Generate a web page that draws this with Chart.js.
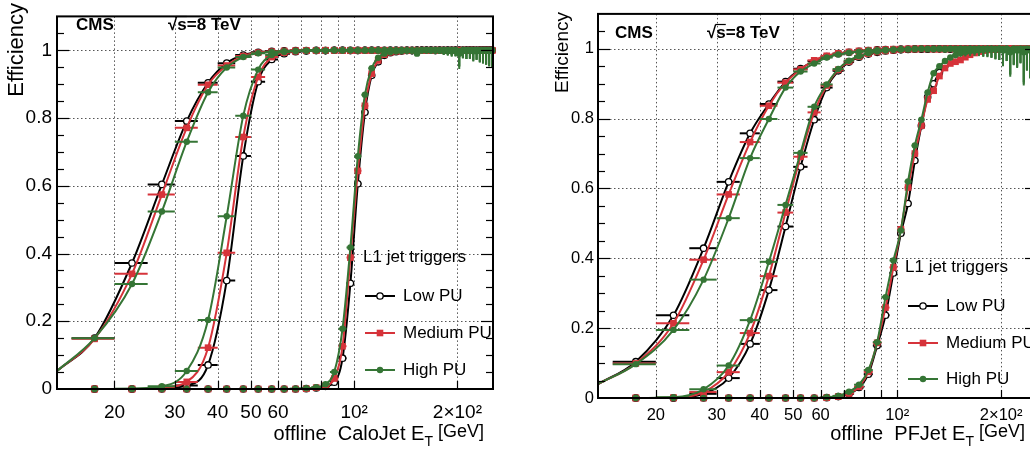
<!DOCTYPE html>
<html><head><meta charset="utf-8">
<script src="https://cdn.jsdelivr.net/npm/chart.js@4.4.0/dist/chart.umd.min.js"></script>
<style>
html,body{margin:0;padding:0;background:#fff;overflow:hidden;width:1030px;height:451px;}
#wrap{position:relative;width:1030px;height:451px;overflow:hidden;background:#fff;}
canvas{position:absolute;top:0;}
#c1{left:0;} #c2{left:520px;}
</style></head><body><div id="wrap"><canvas id="c1" width="500" height="451"></canvas><canvas id="c2" width="530" height="451"></canvas></div>
<script>
// ---------------- data ----------------
const binCenters = [17.5,22.5,27.5,32.5,37.5,42.5,47.5,52.5,57.5,62.5,
 67.5,72.5,77.5,82.5,87.5,92.5,97.5,102.5,107.5,112.5,
 117.5,122.5,127.5,132.5,137.5,142.5,147.5,152.5,157.5,162.5,
 167.5,172.5,177.5,182.5,187.5,192.5,197.5,202.5,207.5,212.5,
 217.5,222.5,227.5,232.5,237.5,242.5,247.5,252.5];
const BIN_HALF_WIDTH = 2.5;
const X_MIN = 13.6, X_MAX = 254;
const xGridValues = [20,30,40,50,60,70,80,90,100,200];
const xTickLabels = ['20','30','40','50','60','','','','10\u00B2','2\u00D710\u00B2'];
const yTickValues = [0,0.2,0.4,0.6,0.8,1];
const yTickLabels = ['0','0.2','0.4','0.6','0.8','1'];
const puLabels = ['Low PU','Medium PU','High PU'];
const legendTitle = 'L1 jet triggers';

// CaloJet panel
const caloThr1Low = [0.150,0.372,0.604,0.791,0.904,0.962,0.986,0.994,0.997,0.998,
 0.999,0.999,1.000,0.999,1.000,1.000,0.999,1.000,1.000,1.000,
 1.000,0.999,1.000,1.000,1.000,1.000,0.999,1.000,1.000,1.000,
 1.000,1.000,1.000,0.999,1.000,1.000,1.000,1.000,1.000,1.000,
 1.000,1.000,0.999,1.000,1.000,1.000,1.000,1.000];
const caloThr1Med = [0.148,0.340,0.574,0.771,0.898,0.955,0.983,0.993,0.996,0.998,
 0.999,0.999,0.999,1.000,1.000,0.999,1.000,1.000,0.999,1.000,
 1.000,1.000,1.000,0.999,1.000,1.000,1.000,1.000,1.000,0.999,
 1.000,1.000,1.000,1.000,1.000,1.000,0.999,1.000,1.000,1.000,
 1.000,1.000,1.000,1.000,1.000,1.000,1.000,1.000];
const caloThr1High = [0.150,0.310,0.524,0.730,0.876,0.949,0.980,0.991,0.995,0.997,
 0.998,0.999,0.999,0.999,1.000,0.999,1.000,0.999,1.000,1.000,
 0.999,1.000,1.000,0.998,1.000,1.000,0.999,0.997,1.000,1.000,
 1.000,0.999,1.000,1.000,0.998,1.000,1.000,0.996,1.000,1.000,
 0.999,1.000,1.000,1.000,0.999,1.000,1.000,1.000];
const caloThr2Low = [0.000,0.000,0.002,0.010,0.071,0.320,0.688,0.907,0.973,0.990,
 0.996,0.998,0.999,0.999,1.000,1.000,1.000,0.999,1.000,1.000,
 1.000,1.000,1.000,1.000,0.999,1.000,1.000,1.000,1.000,1.000,
 1.000,1.000,1.000,1.000,1.000,0.999,1.000,1.000,1.000,1.000,
 1.000,1.000,1.000,1.000,1.000,1.000,1.000,1.000];
const caloThr2Med = [0.000,0.000,0.004,0.021,0.122,0.402,0.744,0.921,0.980,0.993,
 0.997,0.999,0.999,1.000,1.000,1.000,0.999,1.000,1.000,1.000,
 1.000,1.000,0.999,1.000,1.000,1.000,1.000,1.000,1.000,1.000,
 0.999,1.000,1.000,1.000,1.000,1.000,1.000,1.000,1.000,1.000,
 1.000,1.000,1.000,1.000,1.000,1.000,1.000,1.000];
const caloThr2High = [0.000,0.001,0.008,0.053,0.204,0.510,0.807,0.943,0.986,0.995,
 0.998,0.999,1.000,0.999,1.000,1.000,1.000,1.000,0.999,1.000,
 1.000,1.000,1.000,1.000,1.000,0.999,1.000,1.000,1.000,1.000,
 1.000,1.000,0.999,1.000,1.000,1.000,1.000,0.998,1.000,1.000,
 1.000,1.000,1.000,0.999,1.000,1.000,1.000,1.000];
const caloThr3Low = [0.000,0.000,0.000,0.000,0.000,0.000,0.000,0.000,0.000,0.000,
 0.000,0.001,0.003,0.008,0.020,0.091,0.312,0.606,0.817,0.926,
 0.966,0.985,0.993,0.996,0.998,0.999,0.999,1.000,1.000,1.000,
 1.000,0.999,1.000,1.000,1.000,1.000,1.000,1.000,0.999,1.000,
 1.000,1.000,1.000,1.000,1.000,1.000,1.000,1.000];
const caloThr3Med = [0.000,0.000,0.000,0.000,0.000,0.000,0.000,0.000,0.000,0.000,
 0.000,0.001,0.004,0.010,0.031,0.126,0.388,0.644,0.836,0.931,
 0.970,0.987,0.994,0.997,0.998,0.999,1.000,0.999,1.000,1.000,
 1.000,1.000,1.000,1.000,0.999,1.000,1.000,1.000,1.000,1.000,
 1.000,1.000,1.000,1.000,1.000,1.000,1.000,1.000];
const caloThr3High = [0.000,0.000,0.000,0.000,0.000,0.000,0.000,0.000,0.000,0.000,
 0.001,0.002,0.005,0.014,0.050,0.178,0.418,0.687,0.869,0.947,
 0.978,0.990,0.995,0.997,0.998,0.999,0.999,0.990,1.000,1.000,
 0.999,1.000,1.000,0.998,1.000,0.997,1.000,0.990,0.998,1.000,
 0.999,0.997,1.000,0.998,1.000,0.999,0.998,1.000];
const caloHighPuLowErr = [0,0,0,0,0,0,0,0,0,0,
 0,0,0,0,0,0,0,0,0,0,
 0.003,0.003,0.004,0.004,0.005,0.005,0.006,0.006,0.007,0.008,
 0.008,0.009,0.010,0.012,0.014,0.016,0.018,0.045,0.022,0.026,
 0.024,0.030,0.028,0.034,0.038,0.042,0.046,0.050];
const caloCurveStart = [0.053,0,0];

// PFJet panel
const pfThr1Low = [0.104,0.237,0.429,0.619,0.758,0.842,0.906,0.943,0.965,0.978,
 0.986,0.990,0.993,0.995,0.997,0.998,0.998,0.999,0.999,1.000,
 1.000,0.999,1.000,1.000,1.000,1.000,1.000,0.999,1.000,1.000,
 1.000,1.000,1.000,1.000,1.000,1.000,1.000,1.000,1.000,1.000,
 0.999,1.000,1.000,1.000,1.000,1.000,1.000,1.000];
const pfThr1Med = [0.099,0.214,0.396,0.583,0.733,0.837,0.903,0.941,0.967,0.980,
 0.987,0.991,0.994,0.996,0.997,0.998,0.999,0.999,1.000,1.000,
 1.000,1.000,0.999,1.000,1.000,1.000,1.000,1.000,1.000,0.999,
 1.000,1.000,1.000,1.000,1.000,1.000,1.000,1.000,1.000,1.000,
 1.000,1.000,1.000,0.999,1.000,1.000,1.000,1.000];
const pfThr1High = [0.097,0.195,0.339,0.515,0.687,0.799,0.889,0.935,0.958,0.975,
 0.984,0.989,0.992,0.995,0.996,0.997,0.998,0.999,0.999,1.000,
 1.000,0.999,1.000,1.000,0.998,1.000,1.000,1.000,0.999,1.000,
 1.000,1.000,0.998,1.000,1.000,1.000,1.000,0.997,1.000,0.996,
 1.000,0.998,1.000,0.995,1.000,0.997,0.998,1.000];
const pfThr2Low = [0.000,0.000,0.012,0.057,0.155,0.309,0.491,0.662,0.797,0.889,
 0.937,0.962,0.976,0.985,0.990,0.994,0.996,0.997,0.998,0.999,
 0.999,1.000,1.000,1.000,1.000,0.999,1.000,1.000,1.000,1.000,
 1.000,1.000,1.000,1.000,1.000,1.000,1.000,1.000,1.000,1.000,
 1.000,1.000,1.000,1.000,1.000,1.000,1.000,1.000];
const pfThr2Med = [0.000,0.001,0.017,0.074,0.186,0.349,0.531,0.691,0.818,0.895,
 0.940,0.964,0.978,0.986,0.991,0.994,0.996,0.998,0.999,0.999,
 1.000,1.000,1.000,0.999,1.000,1.000,1.000,1.000,1.000,1.000,
 1.000,1.000,1.000,1.000,0.999,1.000,1.000,1.000,1.000,1.000,
 1.000,1.000,1.000,1.000,1.000,1.000,1.000,1.000];
const pfThr2High = [0.000,0.002,0.025,0.093,0.223,0.390,0.553,0.702,0.834,0.898,
 0.942,0.966,0.979,0.987,0.992,0.995,0.997,0.998,0.999,0.999,
 1.000,1.000,0.999,1.000,1.000,1.000,0.998,1.000,1.000,1.000,
 0.999,1.000,1.000,1.000,1.000,0.998,1.000,1.000,1.000,0.997,
 1.000,1.000,0.998,1.000,1.000,1.000,0.996,1.000];
const pfThr3Low = [0.000,0.000,0.000,0.000,0.000,0.000,0.000,0.000,0.000,0.001,
 0.004,0.012,0.030,0.068,0.150,0.237,0.358,0.472,0.557,0.680,
 0.780,0.862,0.900,0.932,0.952,0.966,0.976,0.983,0.988,0.992,
 0.995,0.996,0.997,0.998,0.999,0.999,1.000,1.000,1.000,0.999,
 1.000,1.000,1.000,1.000,1.000,1.000,1.000,1.000];
const pfThr3Med = [0.000,0.000,0.000,0.000,0.000,0.000,0.000,0.000,0.000,0.001,
 0.004,0.013,0.032,0.075,0.158,0.259,0.374,0.483,0.603,0.700,
 0.780,0.855,0.880,0.922,0.945,0.958,0.963,0.968,0.976,0.983,
 0.988,0.992,0.995,0.997,0.998,0.999,0.999,1.000,1.000,1.000,
 1.000,1.000,1.000,1.000,1.000,1.000,1.000,1.000];
const pfThr3High = [0.000,0.000,0.000,0.000,0.000,0.000,0.000,0.000,0.000,0.002,
 0.006,0.018,0.038,0.080,0.160,0.289,0.394,0.480,0.620,0.723,
 0.797,0.875,0.930,0.950,0.965,0.975,0.982,0.987,0.990,0.993,
 0.995,0.996,0.997,0.998,0.999,0.998,1.000,0.995,1.000,0.990,
 0.998,0.995,1.000,0.990,0.997,0.995,0.993,0.996];
const pfHighPuLowErr = [0,0,0,0,0,0,0,0,0,0,
 0,0,0,0,0,0,0,0,0,0,
 0.004,0.005,0.005,0.006,0.007,0.008,0.009,0.010,0.012,0.014,
 0.015,0.017,0.020,0.022,0.025,0.028,0.032,0.045,0.035,0.070,
 0.045,0.050,0.040,0.095,0.060,0.080,0.070,0.075];
const pfCurveStart = [0.04,0,0];

// ---------------- styling ----------------
const FONT = '"Liberation Sans", Arial, Helvetica, sans-serif';
const puColors = ['#000000','#d6333a','#357535'];
const puStyles = ['circle','rect','circle'];

function drawMarker(ctx, p, x, y) {
  ctx.save();
  if (p === 0) {
    ctx.beginPath(); ctx.arc(x, y, 3.2, 0, Math.PI*2);
    ctx.fillStyle = '#fff'; ctx.fill();
    ctx.lineWidth = 1.3; ctx.strokeStyle = puColors[0]; ctx.stroke();
  } else if (p === 1) {
    ctx.fillStyle = puColors[1]; ctx.fillRect(x-3.3, y-3.3, 6.6, 6.6);
  } else {
    ctx.beginPath(); ctx.arc(x, y, 3.2, 0, Math.PI*2);
    ctx.fillStyle = puColors[2]; ctx.fill();
  }
  ctx.restore();
}

function buildDatasets(series, curveStart, highLowErr) {
  const ds = [];
  for (let p = 0; p < 3; p++) {
    for (let t = 0; t < 3; t++) {
      const vals = series[p][t];
      const pts = binCenters.map((c, i) => ({x: c, y: vals[i]}));
      ds.push({type: 'line', data: [{x: X_MIN, y: curveStart[t]}].concat(pts),
        borderColor: puColors[p], borderWidth: 2, pointRadius: 0, pointHoverRadius: 0,
        cubicInterpolationMode: 'monotone', fill: false, clip: false});
      ds.push({type: 'scatter', data: pts, showLine: false,
        pointStyle: puStyles[p], pointRadius: p === 1 ? 4.7 : 3.2,
        backgroundColor: p === 0 ? '#ffffff' : puColors[p],
        borderColor: puColors[p], borderWidth: p === 0 ? 1.3 : 0,
        errorBars: true, errColor: puColors[p], lowErr: p === 2 ? highLowErr : null, clip: false});
    }
  }
  ds.forEach((d, i) => { d.order = ds.length - i; });
  return ds;
}

function makePlugin(L) {
  return {
    id: 'decor',
    beforeDatasetsDraw(chart) {
      const {ctx, chartArea: a, scales: {x, y}} = chart;
      ctx.save();
      ctx.strokeStyle = '#555'; ctx.lineWidth = 1; ctx.setLineDash([1.5, 2.5]);
      xGridValues.forEach(v => {
        const px = Math.round(x.getPixelForValue(v)) + 0.5;
        ctx.beginPath(); ctx.moveTo(px, a.top); ctx.lineTo(px, a.bottom); ctx.stroke();
      });
      yTickValues.forEach(v => {
        if (v === 0) return;
        const py = Math.round(y.getPixelForValue(v)) + 0.5;
        ctx.beginPath(); ctx.moveTo(a.left, py); ctx.lineTo(a.right, py); ctx.stroke();
      });
      ctx.restore();
    },
    beforeDatasetDraw(chart, args) {
      const d = chart.data.datasets[args.index];
      if (!d.errorBars) return;
      const {ctx, chartArea: a, scales: {x, y}} = chart;
      ctx.save();
      ctx.beginPath(); ctx.rect(a.left, a.top - 10, a.right - a.left, a.bottom - a.top + 20); ctx.clip();
      ctx.strokeStyle = d.errColor; ctx.lineWidth = 2;
      d.data.forEach((pt, i) => {
        const py = y.getPixelForValue(pt.y);
        const x1 = x.getPixelForValue(pt.x - BIN_HALF_WIDTH);
        const x2 = x.getPixelForValue(pt.x + BIN_HALF_WIDTH);
        ctx.beginPath(); ctx.moveTo(x1, py); ctx.lineTo(x2, py); ctx.stroke();
        if (d.lowErr && d.lowErr[i] > 0) {
          const px = x.getPixelForValue(pt.x);
          ctx.beginPath(); ctx.moveTo(px, py); ctx.lineTo(px, y.getPixelForValue(pt.y - d.lowErr[i])); ctx.stroke();
        }
      });
      ctx.restore();
    },
    afterDraw(chart) {
      const {ctx, chartArea: a, scales: {x, y}} = chart;
      ctx.save();
      // minor/major y ticks inside on both sides
      ctx.strokeStyle = '#000'; ctx.lineWidth = 1.2;
      for (let k = 1; k <= 21; k++) {
        const v = k * 0.05;
        const py = Math.round(y.getPixelForValue(v)) + 0.5;
        const len = (k % 4 === 0) ? 12 : 7;
        ctx.beginPath(); ctx.moveTo(a.left, py); ctx.lineTo(a.left + len, py); ctx.stroke();
        ctx.beginPath(); ctx.moveTo(a.right, py); ctx.lineTo(a.right - len, py); ctx.stroke();
      }
      xGridValues.forEach(v => {
        const px = Math.round(x.getPixelForValue(v)) + 0.5;
        ctx.beginPath(); ctx.moveTo(px, a.bottom); ctx.lineTo(px, a.bottom - 8); ctx.stroke();
      });
      // frame
      ctx.lineWidth = 2; ctx.strokeStyle = '#000';
      ctx.strokeRect(a.left, a.top, a.right - a.left, a.bottom - a.top);
      // y title
      ctx.fillStyle = '#000';
      ctx.save();
      ctx.translate(L.yTitleX, L.yTitleTop); ctx.rotate(-Math.PI / 2);
      ctx.font = L.yTitleSize + 'px ' + FONT; ctx.textAlign = 'right'; ctx.textBaseline = 'middle';
      ctx.fillText('Efficiency', 0, 0);
      ctx.restore();
      // x title
      ctx.textBaseline = 'alphabetic'; ctx.textAlign = 'left';
      const f1 = '20px ' + FONT, f2 = '14px ' + FONT, f3 = '18px ' + FONT;
      ctx.font = f1; const w1 = ctx.measureText(L.xTitleMain).width;
      ctx.font = f2; const w2 = ctx.measureText('T').width;
      ctx.font = f3; const w3 = ctx.measureText(' [GeV]').width;
      let sx = L.xTitleRight - (w1 + w2 + w3);
      ctx.font = f1; ctx.fillText(L.xTitleMain, sx, L.xTitleBase);
      ctx.font = f2; ctx.fillText('T', sx + w1, L.xTitleBase + 6);
      ctx.font = f3; ctx.fillText(' [GeV]', sx + w1 + w2, L.xTitleBase - 3);
      // CMS and energy
      ctx.font = 'bold 17px ' + FONT; ctx.textBaseline = 'middle';
      ctx.fillText('CMS', L.cmsX, L.cmsY);
      const wr = ctx.measureText('\u221A').width;
      ctx.fillText('\u221As=8 TeV', L.sqrtX, L.cmsY);
      const ws = ctx.measureText('s').width;
      ctx.lineWidth = 1.2;
      ctx.beginPath(); ctx.moveTo(L.sqrtX + wr - 1, L.cmsY - 8.5); ctx.lineTo(L.sqrtX + wr + ws, L.cmsY - 8.5); ctx.stroke();
      // legend
      ctx.font = '17px ' + FONT; ctx.textBaseline = 'middle';
      ctx.fillText(legendTitle, L.legTitleX, L.legTitleY);
      puLabels.forEach((lab, i) => {
        const yy = L.legY[i];
        ctx.strokeStyle = puColors[i]; ctx.lineWidth = 2;
        ctx.beginPath(); ctx.moveTo(L.legLineX1, yy); ctx.lineTo(L.legLineX2, yy); ctx.stroke();
        drawMarker(ctx, i, (L.legLineX1 + L.legLineX2) / 2, yy);
        ctx.fillStyle = '#000';
        ctx.fillText(lab, L.legTextX, yy);
      });
      ctx.restore();
    }
  };
}

function makeChart(canvasId, series, curveStart, highLowErr, L) {
  return new Chart(document.getElementById(canvasId), {
    type: 'scatter',
    data: {datasets: buildDatasets(series, curveStart, highLowErr)},
    options: {
      responsive: false, animation: false, devicePixelRatio: 1,
      layout: {padding: {top: L.padTop, right: L.padRight, left: 0, bottom: 0}},
      plugins: {legend: {display: false}, tooltip: {enabled: false}},
      events: [],
      scales: {
        x: {type: 'logarithmic', min: X_MIN, max: X_MAX,
          grid: {display: false, drawTicks: false}, border: {display: false},
          afterBuildTicks: s => { s.ticks = xGridValues.map(v => ({value: v})); },
          afterFit: s => { s.height = L.xHeight; },
          ticks: {autoSkip: false, maxRotation: 0, minRotation: 0, padding: L.xTickPad,
            color: '#000', font: {family: FONT, size: L.tickSize},
            callback: v => { const i = xGridValues.indexOf(v); return i >= 0 ? xTickLabels[i] : ''; }}},
        y: {type: 'linear', min: 0, max: 1.1,
          grid: {display: false, drawTicks: false}, border: {display: false},
          afterBuildTicks: s => { s.ticks = yTickValues.map(v => ({value: v})); },
          afterFit: s => { s.width = L.yWidth; },
          ticks: {padding: L.yTickPad, color: '#000', font: {family: FONT, size: L.tickSize},
            callback: v => { const i = yTickValues.indexOf(v); return i >= 0 ? yTickLabels[i] : ''; }}}
      }
    },
    plugins: [makePlugin(L)]
  });
}

makeChart('c1',
  [[caloThr1Low, caloThr2Low, caloThr3Low], [caloThr1Med, caloThr2Med, caloThr3Med], [caloThr1High, caloThr2High, caloThr3High]],
  caloCurveStart, caloHighPuLowErr,
  {padTop: 3, padRight: 7, xHeight: 62, yWidth: 57, tickSize: 19, xTickPad: 12, yTickPad: 5,
   yTitleX: 16.5, yTitleTop: 3, yTitleSize: 22,
   xTitleMain: 'offline  CaloJet E', xTitleRight: 484, xTitleBase: 440,
   cmsX: 76, cmsY: 25, sqrtX: 168,
   legTitleX: 363, legTitleY: 257, legLineX1: 365, legLineX2: 395, legTextX: 403, legY: [296, 333, 370]});

makeChart('c2',
  [[pfThr1Low, pfThr2Low, pfThr3Low], [pfThr1Med, pfThr2Med, pfThr3Med], [pfThr1High, pfThr2High, pfThr3High]],
  pfCurveStart, pfHighPuLowErr,
  {padTop: 11, padRight: 13, xHeight: 53, yWidth: 78, tickSize: 16.5, xTickPad: 8, yTickPad: 4,
   yTitleX: 43, yTitleTop: 12, yTitleSize: 19,
   xTitleMain: 'offline  PFJet E', xTitleRight: 505, xTitleBase: 440,
   cmsX: 95, cmsY: 33, sqrtX: 187,
   legTitleX: 385, legTitleY: 267, legLineX1: 388, legLineX2: 418, legTextX: 426, legY: [306, 343, 379]});
</script></body></html>
